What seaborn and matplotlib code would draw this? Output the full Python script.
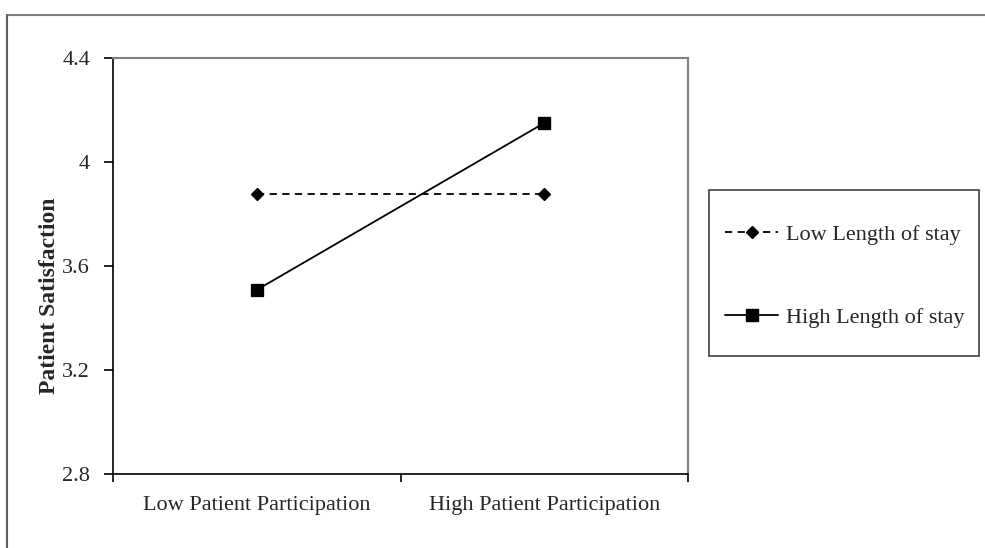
import pandas as pd
import matplotlib.pyplot as plt
import seaborn as sns
from matplotlib.lines import Line2D
from matplotlib.patches import Rectangle

participation = ["Low Patient Participation", "High Patient Participation"]
low_stay = [3.877, 3.877]
high_stay = [3.508, 4.150]
series = ["Low Length of stay", "High Length of stay"]
yticks = [2.8, 3.2, 3.6, 4.0, 4.4]

df = pd.DataFrame({
    "participation": participation * 2,
    "satisfaction": low_stay + high_stay,
    "stay": [series[0]] * 2 + [series[1]] * 2,
})

sns.set_style("white")
plt.rcParams["font.family"] = ["Liberation Serif", "DejaVu Serif"]

fig = plt.figure(figsize=(9.85, 5.48), dpi=100)
ax = fig.add_axes([113 / 985, 1 - 474 / 548, (688 - 113) / 985, (474 - 58) / 548])

sns.pointplot(
    data=df, x="participation", y="satisfaction", hue="stay",
    order=participation, hue_order=series,
    markers=["D", "s"], linestyles=["--", "-"],
    palette=["black", "black"], errorbar=None, legend=False,
    markersize=7, linewidth=1.3, ax=ax,
)
ax.lines[0].set_dashes((4, 3))
ax.lines[0].set_markersize(6.5)
ax.lines[1].set_markersize(8)

ax.set_xlim(-0.5, 1.5)
ax.set_ylim(2.8, 4.4)
ax.set_yticks(yticks)
ax.set_yticklabels([f"{v:g}" for v in yticks])
ax.set_xticks([0, 1])
ax.set_xticklabels(participation)
ax.set_xticks([-0.5, 0.5, 1.5], minor=True)
ax.tick_params(axis="x", which="major", bottom=True, length=0, pad=16, labelsize=16)
ax.tick_params(axis="x", which="minor", bottom=True, length=6, width=1.2, direction="out", color="black")
ax.tick_params(axis="y", left=True, length=6.5, width=1.2, direction="out", color="black", labelsize=16, pad=10)
ax.set_xlabel("")
ax.set_ylabel("Patient Satisfaction", fontsize=17, fontweight="bold")
ax.yaxis.set_label_coords(-0.093, 0.428)

for side in ["left", "bottom"]:
    ax.spines[side].set_color("black")
    ax.spines[side].set_linewidth(1.2)
for side in ["top", "right"]:
    ax.spines[side].set_color("#808080")
    ax.spines[side].set_linewidth(1.5)
    ax.spines[side].set_visible(True)

handles = [
    Line2D([], [], color="black", linestyle=(0, (4, 3)), linewidth=1.3, marker="D", markersize=6.5),
    Line2D([], [], color="black", linestyle="-", linewidth=1.3, marker="s", markersize=8),
]
ax.legend(handles, series, loc="center left", bbox_to_anchor=(725 / 985, 1 - 276 / 548),
          bbox_transform=fig.transFigure, frameon=False, fontsize=16, borderpad=0, borderaxespad=0,
          handlelength=2.4, handletextpad=0.36, labelspacing=2.8)

# legend box and outer chart frame
fig.add_artist(Rectangle((709 / 985, 1 - 356 / 548), 270 / 985, 166 / 548, transform=fig.transFigure,
                         fill=False, edgecolor="#404040", linewidth=1.2))
fig.add_artist(Line2D([7 / 985, 1], [1 - 15 / 548, 1 - 15 / 548], transform=fig.transFigure,
                      color="#808080", linewidth=1.5))
fig.add_artist(Line2D([7 / 985, 7 / 985], [0, 1 - 15 / 548], transform=fig.transFigure,
                      color="#606060", linewidth=1.5))

fig.savefig("out.png", dpi=100)
